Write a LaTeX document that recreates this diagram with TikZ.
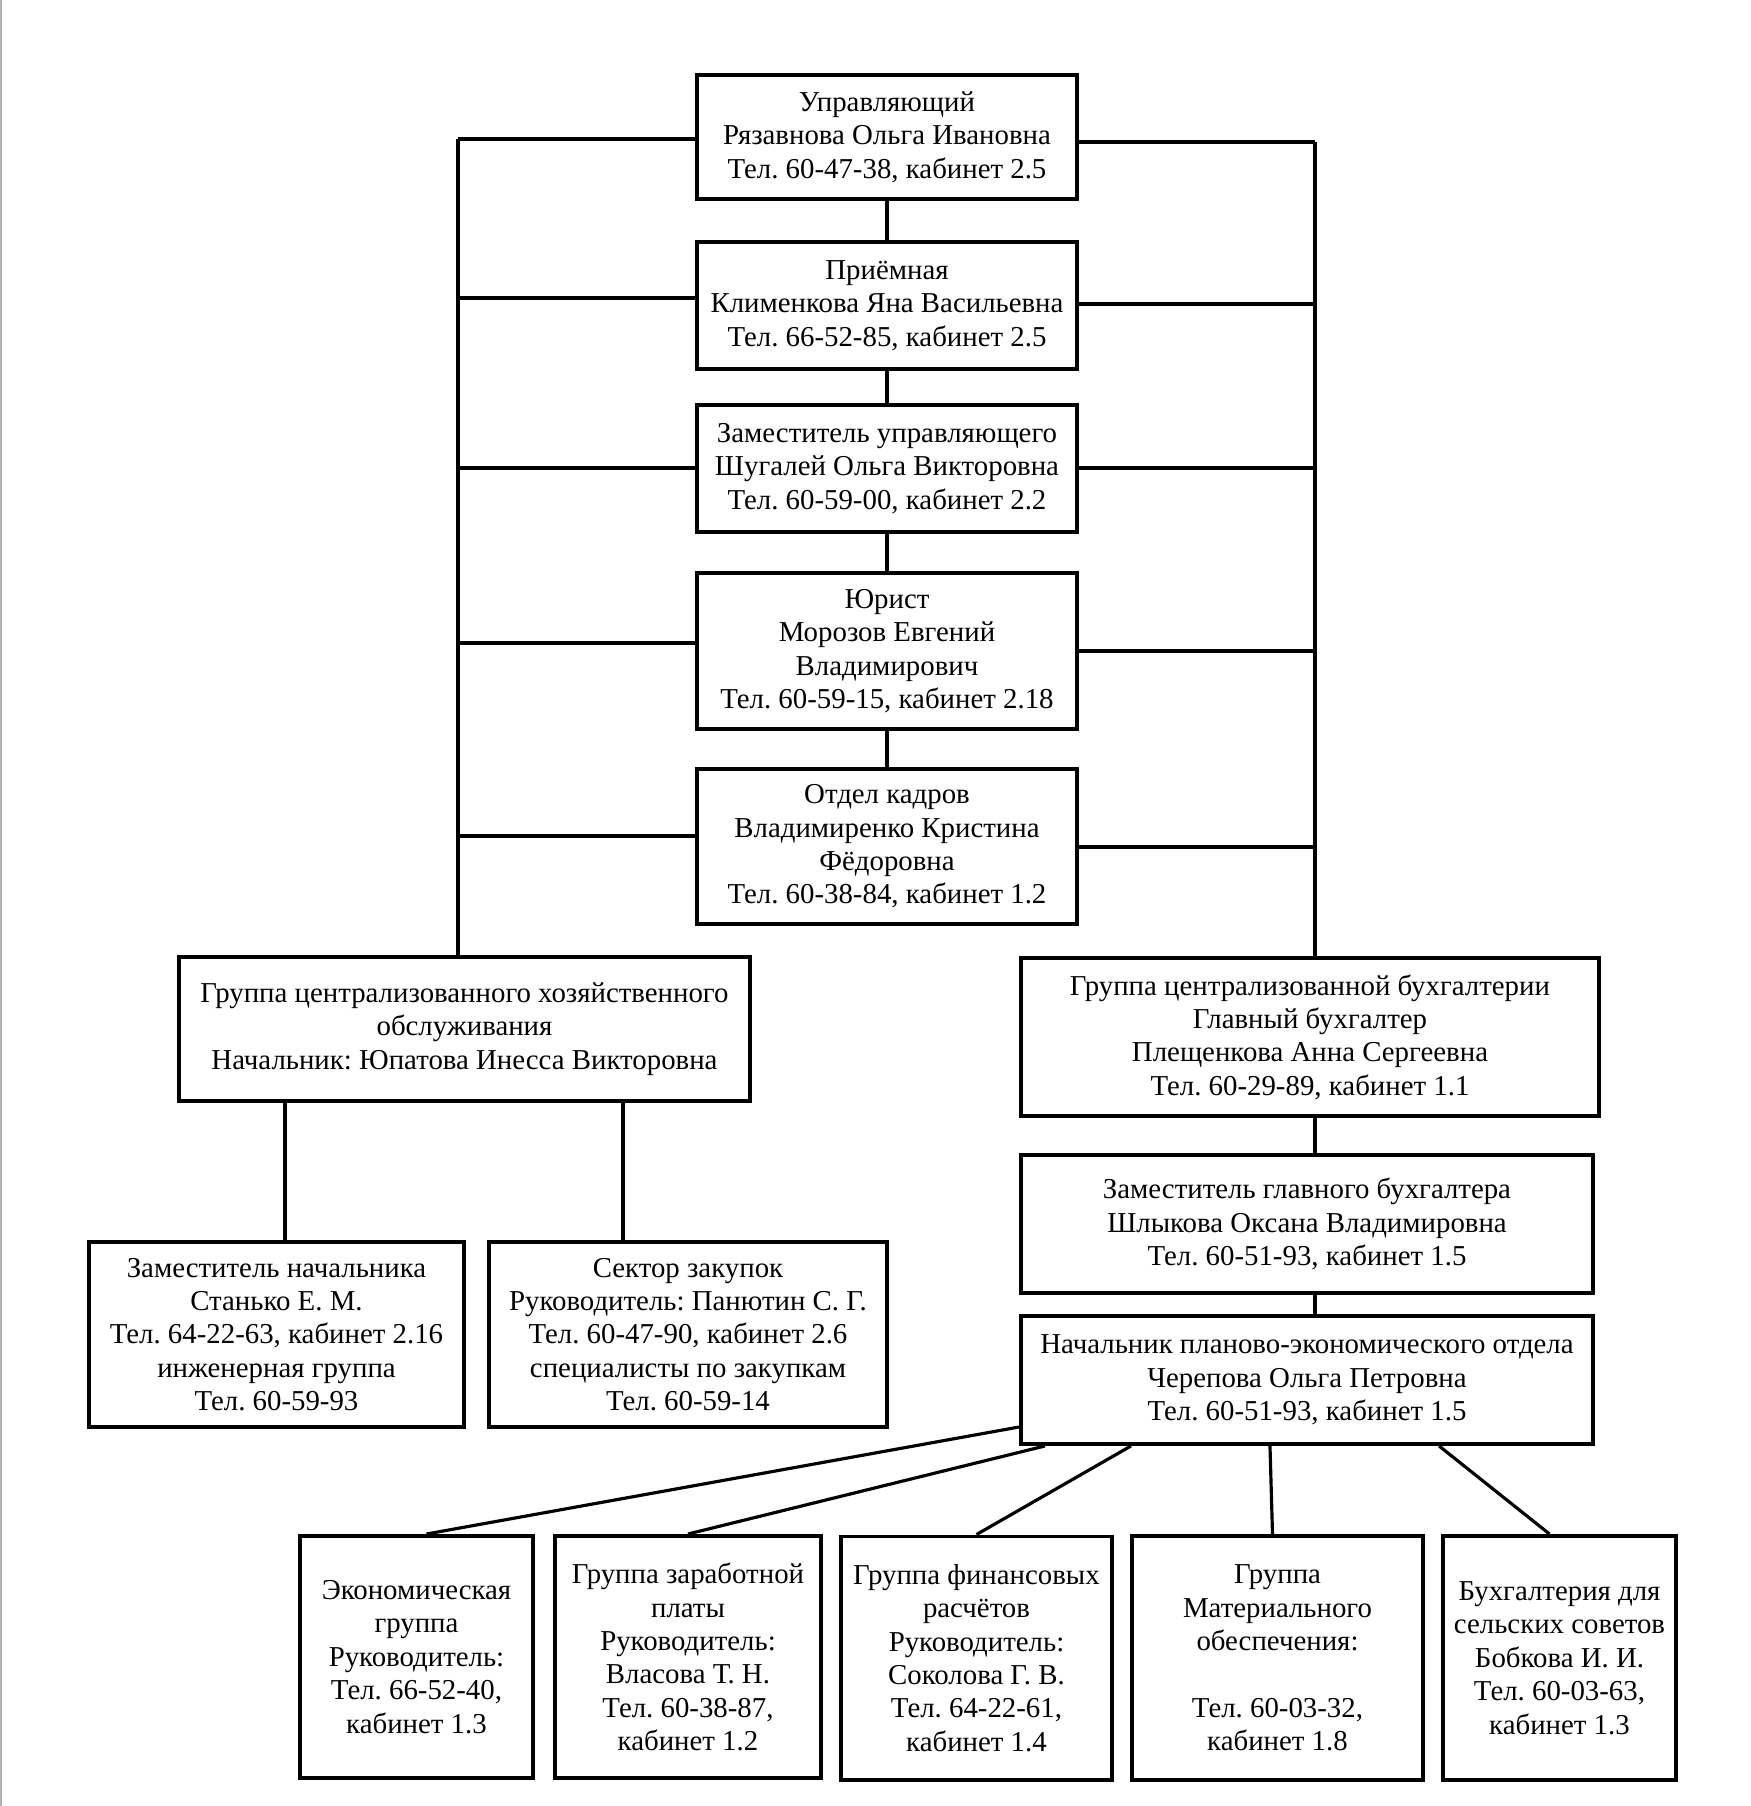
\documentclass[tikz,border=0pt]{standalone}
\usepackage{fontspec}
\setmainfont{Liberation Serif}
\frenchspacing
\begin{document}
\begin{tikzpicture}[x=0.01cm,y=-0.01cm,
  font=\fontsize{8.2}{9.5}\selectfont,
  unit/.style={draw,line width=1.1pt,align=center,inner sep=0pt,fill=white},
  link/.style={line width=0.9pt}]
\useasboundingbox (0,0) rectangle (1750,1806);
\fill[gray!60] (0,0) rectangle (2,1806);
% central column
\node[unit,minimum width=3.8cm,minimum height=1.24cm] (upr) at (887,137) {Управляющий\\Рязавнова Ольга Ивановна\\Тел. 60-47-38, кабинет 2.5};
\node[unit,minimum width=3.8cm,minimum height=1.27cm] (pri) at (887,305.5) {Приёмная\\Клименкова Яна Васильевна\\Тел. 66-52-85, кабинет 2.5};
\node[unit,minimum width=3.8cm,minimum height=1.27cm] (zam) at (887,468.5) {Заместитель управляющего\\Шугалей Ольга Викторовна\\Тел. 60-59-00, кабинет 2.2};
\node[unit,minimum width=3.8cm,minimum height=1.56cm] (jur) at (887,651) {Юрист\\Морозов Евгений\\Владимирович\\Тел. 60-59-15, кабинет 2.18};
\node[unit,minimum width=3.8cm,minimum height=1.55cm] (kad) at (887,846.5) {Отдел кадров\\Владимиренко Кристина\\Фёдоровна\\Тел. 60-38-84, кабинет 1.2};
% left branch
\node[unit,minimum width=5.71cm,minimum height=1.44cm] (hoz) at (464.5,1029) {Группа централизованного хозяйственного\\обслуживания\\Начальник: Юпатова Инесса Викторовна};
\node[unit,minimum width=3.75cm,minimum height=1.85cm] (hzam) at (276.5,1334.5) {Заместитель начальника\\Станько Е. М.\\Тел. 64-22-63, кабинет 2.16\\инженерная группа\\Тел. 60-59-93};
\node[unit,minimum width=3.98cm,minimum height=1.85cm] (zak) at (688,1334.5) {Сектор закупок\\Руководитель: Панютин С. Г.\\Тел. 60-47-90, кабинет 2.6\\специалисты по закупкам\\Тел. 60-59-14};
% right branch
\node[unit,minimum width=5.78cm,minimum height=1.58cm] (buh) at (1310,1037) {Группа централизованной бухгалтерии\\Главный бухгалтер\\Плещенкова Анна Сергеевна\\Тел. 60-29-89, кабинет 1.1};
\node[unit,minimum width=5.72cm,minimum height=1.38cm] (zgb) at (1307,1224) {Заместитель главного бухгалтера\\Шлыкова Оксана Владимировна\\Тел. 60-51-93, кабинет 1.5};
\node[unit,minimum width=5.72cm,minimum height=1.28cm] (peo) at (1307,1380) {Начальник планово-экономического отдела\\Черепова Ольга Петровна\\Тел. 60-51-93, кабинет 1.5};
% groups
\node[unit,minimum width=2.33cm,minimum height=2.42cm] (eko) at (416.5,1657) {Экономическая\\группа\\Руководитель:\\Тел. 66-52-40,\\кабинет 1.3};
\node[unit,minimum width=2.66cm,minimum height=2.42cm] (zpl) at (688,1657) {Группа заработной\\платы\\Руководитель:\\Власова Т. Н.\\Тел. 60-38-87,\\кабинет 1.2};
\node[unit,minimum width=2.71cm,minimum height=2.43cm] (fin) at (976.5,1658) {Группа финансовых\\расчётов\\Руководитель:\\Соколова Г. В.\\Тел. 64-22-61,\\кабинет 1.4};
\node[unit,minimum width=2.91cm,minimum height=2.44cm] (mat) at (1277.5,1658) {Группа\\Материального\\обеспечения:\\\mbox{}\\Тел. 60-03-32,\\кабинет 1.8};
\node[unit,minimum width=2.33cm,minimum height=2.44cm] (sel) at (1559.5,1658) {Бухгалтерия для\\сельских советов\\Бобкова И. И.\\Тел. 60-03-63,\\кабинет 1.3};
% buses
\coordinate (lbus) at (458,139);
\coordinate (rbus) at (1315,142);
\draw[link] (lbus) -- (lbus |- hoz.north);
\draw[link] (rbus) -- (rbus |- buh.north);
\foreach \n/\y in {upr/139,pri/298,zam/468,jur/643,kad/836}{
  \coordinate (l\n) at (458,\y);
  \draw[link] (l\n) -- (l\n -| \n.west);
}
\foreach \n/\y in {upr/142,pri/304,zam/468,jur/651,kad/847}{
  \coordinate (r\n) at (1315,\y);
  \draw[link] (\n.east |- r\n) -- (r\n);
}
\draw[link] (upr) -- (pri);
\draw[link] (pri) -- (zam);
\draw[link] (zam) -- (jur);
\draw[link] (jur) -- (kad);
% under hoz
\coordinate (hl) at (285,0);
\coordinate (hr) at (623,0);
\draw[link] (hoz.south -| hl) -- (hzam.north -| hl);
\draw[link] (hoz.south -| hr) -- (zak.north -| hr);
% under buh
\draw[link] (rbus |- buh.south) -- (rbus |- zgb.north);
\draw[link] (rbus |- zgb.south) -- (rbus |- peo.north);
% to groups
\draw[link] ([yshift=-0.47cm]peo.west) -- ([xshift=0.1cm]eko.north);
\draw[link] ([xshift=0.26cm]peo.south west) -- (zpl.north);
\draw[link] ([xshift=1.12cm]peo.south west) -- (fin.north);
\draw[link] ([xshift=-0.37cm]peo.south) -- ([xshift=-0.05cm]mat.north);
\draw[link] ([xshift=1.32cm]peo.south) -- ([xshift=-0.1cm]sel.north);
\end{tikzpicture}
\end{document}
